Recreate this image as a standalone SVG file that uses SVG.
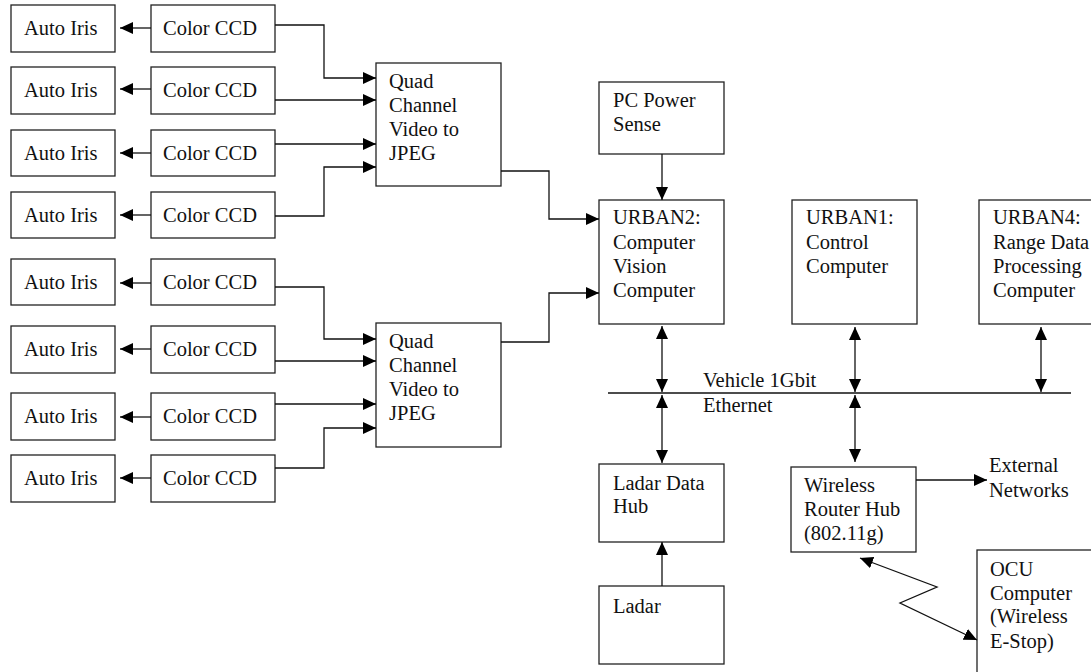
<svg xmlns="http://www.w3.org/2000/svg" width="1091" height="672" viewBox="0 0 1091 672">
  <style>
    .box { fill: #fff; stroke: #222; stroke-width: 1.3; }
    .lbl { font-family: 'Liberation Serif', 'Times New Roman', Times, serif; font-size: 20.5px; fill: #111; }
    .wire { fill: none; stroke: #111; stroke-width: 1.3; }
    .one { marker-end: url(#arrow); }
    .two { marker-start: url(#arrow); marker-end: url(#arrow); }
  </style>
  <defs>
    <marker id="arrow" markerUnits="userSpaceOnUse" markerWidth="14" markerHeight="12" refX="13" refY="6" orient="auto-start-reverse">
      <path d="M0,0 L13,6 L0,12 z" fill="#000"/>
    </marker>
  </defs>
  <rect width="1091" height="672" fill="#fff"/>

  <!-- camera chain, upper group -->
  <g id="iris1"><rect class="box" x="11" y="5" width="104" height="47"/><text class="lbl" x="24" y="35">Auto Iris</text></g>
  <g id="ccd1"><rect class="box" x="151" y="5" width="124" height="47"/><text class="lbl" x="163" y="35">Color CCD</text></g>
  <g id="iris2"><rect class="box" x="11" y="67" width="104" height="47"/><text class="lbl" x="24" y="97">Auto Iris</text></g>
  <g id="ccd2"><rect class="box" x="151" y="67" width="124" height="47"/><text class="lbl" x="163" y="97">Color CCD</text></g>
  <g id="iris3"><rect class="box" x="11" y="130" width="104" height="46"/><text class="lbl" x="24" y="160">Auto Iris</text></g>
  <g id="ccd3"><rect class="box" x="151" y="130" width="124" height="46"/><text class="lbl" x="163" y="160">Color CCD</text></g>
  <g id="iris4"><rect class="box" x="11" y="192" width="104" height="46"/><text class="lbl" x="24" y="222">Auto Iris</text></g>
  <g id="ccd4"><rect class="box" x="151" y="192" width="124" height="46"/><text class="lbl" x="163" y="222">Color CCD</text></g>

  <!-- camera chain, lower group -->
  <g id="iris5"><rect class="box" x="11" y="259" width="104" height="46"/><text class="lbl" x="24" y="289">Auto Iris</text></g>
  <g id="ccd5"><rect class="box" x="151" y="259" width="124" height="46"/><text class="lbl" x="163" y="289">Color CCD</text></g>
  <g id="iris6"><rect class="box" x="11" y="326" width="104" height="47"/><text class="lbl" x="24" y="356">Auto Iris</text></g>
  <g id="ccd6"><rect class="box" x="151" y="326" width="124" height="47"/><text class="lbl" x="163" y="356">Color CCD</text></g>
  <g id="iris7"><rect class="box" x="11" y="393" width="104" height="47"/><text class="lbl" x="24" y="423">Auto Iris</text></g>
  <g id="ccd7"><rect class="box" x="151" y="393" width="124" height="47"/><text class="lbl" x="163" y="423">Color CCD</text></g>
  <g id="iris8"><rect class="box" x="11" y="455" width="104" height="47"/><text class="lbl" x="24" y="485">Auto Iris</text></g>
  <g id="ccd8"><rect class="box" x="151" y="455" width="124" height="47"/><text class="lbl" x="163" y="485">Color CCD</text></g>

  <!-- video encoders -->
  <g id="quad1">
    <rect class="box" x="376" y="63" width="125" height="123"/>
    <text class="lbl" x="389" y="88">Quad</text>
    <text class="lbl" x="389" y="112">Channel</text>
    <text class="lbl" x="389" y="136">Video to</text>
    <text class="lbl" x="389" y="160">JPEG</text>
  </g>
  <g id="quad2">
    <rect class="box" x="376" y="323" width="125" height="124"/>
    <text class="lbl" x="389" y="348">Quad</text>
    <text class="lbl" x="389" y="372">Channel</text>
    <text class="lbl" x="389" y="396">Video to</text>
    <text class="lbl" x="389" y="420">JPEG</text>
  </g>

  <!-- computers and network devices -->
  <g id="power">
    <rect class="box" x="599" y="82" width="125" height="72"/>
    <text class="lbl" x="613" y="107">PC Power</text>
    <text class="lbl" x="613" y="131">Sense</text>
  </g>
  <g id="urban2">
    <rect class="box" x="599" y="200" width="125" height="124"/>
    <text class="lbl" x="613" y="224">URBAN2:</text>
    <text class="lbl" x="613" y="249">Computer</text>
    <text class="lbl" x="613" y="273">Vision</text>
    <text class="lbl" x="613" y="297">Computer</text>
  </g>
  <g id="urban1">
    <rect class="box" x="792" y="200" width="125" height="124"/>
    <text class="lbl" x="806" y="224">URBAN1:</text>
    <text class="lbl" x="806" y="249">Control</text>
    <text class="lbl" x="806" y="273">Computer</text>
  </g>
  <g id="urban4">
    <rect class="box" x="979" y="200" width="130" height="124"/>
    <text class="lbl" x="993" y="224">URBAN4:</text>
    <text class="lbl" x="993" y="249">Range Data</text>
    <text class="lbl" x="993" y="273">Processing</text>
    <text class="lbl" x="993" y="297">Computer</text>
  </g>
  <g id="ethernet">
    <line class="wire" x1="608" y1="393" x2="1071" y2="393"/>
    <text class="lbl" x="703" y="387">Vehicle 1Gbit</text>
    <text class="lbl" x="703" y="412">Ethernet</text>
  </g>
  <g id="ladarhub">
    <rect class="box" x="599" y="464" width="125" height="78"/>
    <text class="lbl" x="613" y="490">Ladar Data</text>
    <text class="lbl" x="613" y="513">Hub</text>
  </g>
  <g id="ladar">
    <rect class="box" x="599" y="586" width="125" height="78"/>
    <text class="lbl" x="613" y="613">Ladar</text>
  </g>
  <g id="router">
    <rect class="box" x="791" y="467" width="125" height="85"/>
    <text class="lbl" x="804" y="492">Wireless</text>
    <text class="lbl" x="804" y="516">Router Hub</text>
    <text class="lbl" x="804" y="540">(802.11g)</text>
  </g>
  <g id="external">
    <text class="lbl" x="989" y="472">External</text>
    <text class="lbl" x="989" y="497">Networks</text>
  </g>
  <g id="ocu">
    <rect class="box" x="977" y="550" width="130" height="140"/>
    <text class="lbl" x="990" y="576">OCU</text>
    <text class="lbl" x="990" y="600">Computer</text>
    <text class="lbl" x="990" y="623">(Wireless</text>
    <text class="lbl" x="990" y="648">E-Stop)</text>
  </g>

  <!-- connectors -->
  <g id="connectors">
    <!-- camera to iris -->
    <line class="wire one" x1="151" y1="28" x2="120" y2="28"/>
    <line class="wire one" x1="151" y1="89" x2="120" y2="89"/>
    <line class="wire one" x1="151" y1="153" x2="120" y2="153"/>
    <line class="wire one" x1="151" y1="215" x2="120" y2="215"/>
    <line class="wire one" x1="151" y1="283" x2="120" y2="283"/>
    <line class="wire one" x1="151" y1="349" x2="120" y2="349"/>
    <line class="wire one" x1="151" y1="417" x2="120" y2="417"/>
    <line class="wire one" x1="151" y1="478" x2="120" y2="478"/>

    <!-- camera to encoder 1 -->
    <path class="wire one" d="M275,25 H324 V78 H376"/>
    <path class="wire one" d="M275,100 H376"/>
    <path class="wire one" d="M275,144 H376"/>
    <path class="wire one" d="M275,216 H324 V167 H376"/>

    <!-- camera to encoder 2 -->
    <path class="wire one" d="M275,287 H324 V339 H376"/>
    <path class="wire one" d="M275,361 H376"/>
    <path class="wire one" d="M275,404 H376"/>
    <path class="wire one" d="M275,468 H324 V428 H376"/>

    <!-- encoders to vision computer -->
    <path class="wire one" d="M501,171 H549 V219 H599"/>
    <path class="wire one" d="M501,342 H549 V293 H599"/>

    <!-- power sense -->
    <line class="wire one" x1="662" y1="154" x2="662" y2="200"/>

    <!-- network taps -->
    <line class="wire two" x1="662" y1="326" x2="662" y2="392"/>
    <line class="wire two" x1="855" y1="327" x2="855" y2="392"/>
    <line class="wire two" x1="1041" y1="327" x2="1041" y2="392"/>
    <line class="wire two" x1="662" y1="395" x2="662" y2="463"/>
    <line class="wire two" x1="855" y1="395" x2="855" y2="462"/>

    <!-- ladar to hub -->
    <line class="wire one" x1="662" y1="586" x2="662" y2="542"/>

    <!-- router to outside -->
    <line class="wire one" x1="916" y1="480" x2="987" y2="480"/>

    <!-- wireless link -->
    <polyline class="wire two" points="860,558 937,587 900,603 977,640"/>
  </g>
</svg>
